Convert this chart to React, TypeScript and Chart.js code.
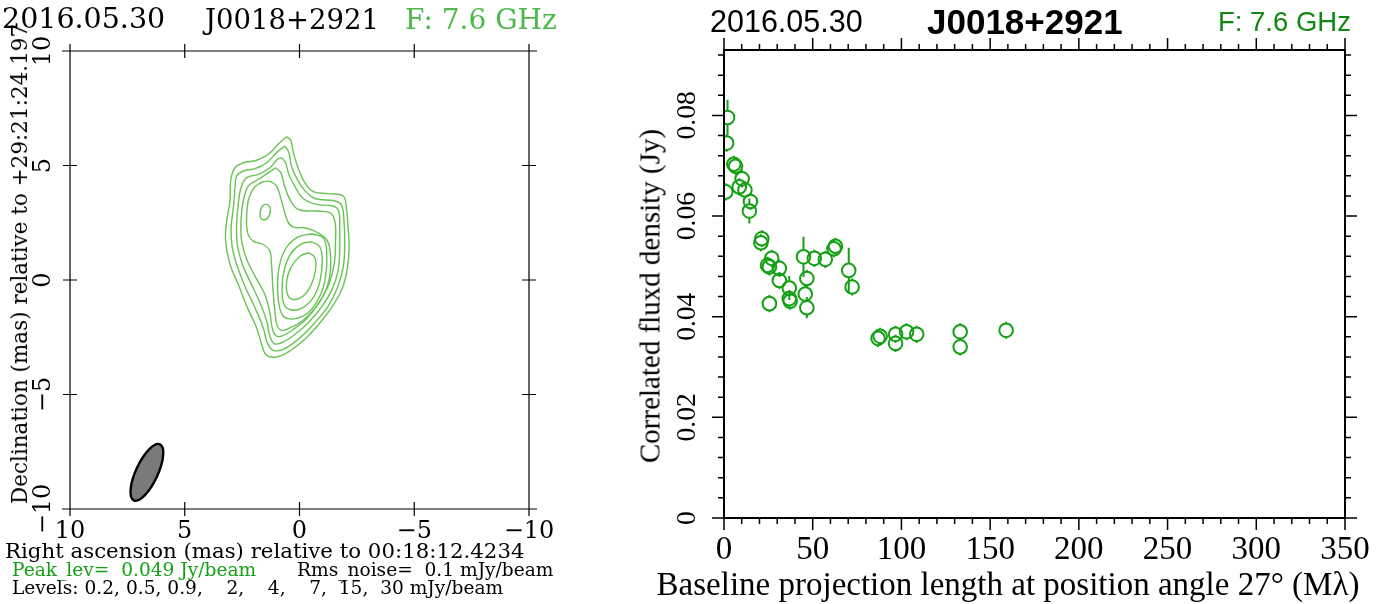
import React, { useEffect, useRef } from "react";
import { Chart, registerables } from "chart.js";

Chart.register(...registerables);

// ---------------- Right panel: correlated flux density vs baseline ----------------
const baselineMl = [
  2.0, 1.5, 1.0, 5.5, 6.5,
  10.2, 8.6, 11.8, 14.9, 14.3,
  21.3, 20.8, 26.9, 25.6, 24.5,
  31.2, 31.2, 36.8, 36.8, 37.3,
  25.6, 44.8, 46.7, 45.8, 46.7,
  50.9, 57.1, 62.8, 62.0, 70.3,
  72.2, 86.8, 88.0, 96.7, 96.7,
  102.9, 108.6, 133.1, 133.1, 159.0,
];
const fluxJy = [
  0.0796, 0.0745, 0.0648, 0.0703, 0.0699,
  0.0674, 0.0658, 0.0652, 0.0629, 0.061,
  0.0555, 0.0547, 0.0516, 0.0499, 0.0502,
  0.0496, 0.0472, 0.0457, 0.0436, 0.0431,
  0.0426, 0.0519, 0.0476, 0.0445, 0.0418,
  0.0516, 0.0514, 0.054, 0.0535, 0.0492,
  0.0459, 0.0357, 0.0361, 0.0365, 0.0347,
  0.037, 0.0365, 0.037, 0.034, 0.0373,
];
const fluxErrJy = [
  0.0035, 0.0017, 0.0017, 0.0017, 0.0017,
  0.0017, 0.0017, 0.0017, 0.0017, 0.0025,
  0.0017, 0.0017, 0.0017, 0.0017, 0.0017,
  0.0017, 0.0017, 0.0024, 0.0017, 0.0017,
  0.0017, 0.004, 0.0017, 0.0017, 0.0021,
  0.0017, 0.0017, 0.0017, 0.0017, 0.0045,
  0.0017, 0.0017, 0.0017, 0.0017, 0.0017,
  0.0017, 0.0017, 0.0017, 0.0017, 0.0017,
];
const uvXTicks = [0, 50, 100, 150, 200, 250, 300, 350];
const uvYTicks = [0, 0.02, 0.04, 0.06, 0.08];
const uvXRange = [0, 350];
const uvYRange = [0, 0.093];

// ---------------- Left panel: contour map (mas) ----------------
type P = [number, number];
const contourLevel1: P[] = [
  [0.57, 6.26], [0.38, 6.1], [0.27, 5.56], [0.06, 4.9], [-0.23, 4.25], [-0.6, 3.86], [-1.25, 3.77],
  [-1.9, 3.67], [-2.04, 3.16], [-2.12, 2.28], [-2.16, 1.41], [-2.09, 0.54], [-1.9, -0.26], [-1.54, -0.99],
  [-0.96, -1.79], [-0.23, -2.59], [0.42, -3.1], [1.0, -3.36], [1.44, -3.28], [1.65, -2.81], [1.87, -2.08],
  [2.3, -1.14], [2.67, -0.19], [3.03, 0.69], [3.22, 1.7], [3.17, 2.58], [3.03, 3.45], [2.99, 4.4],
  [2.81, 4.9], [2.45, 5.12], [1.87, 5.23], [1.36, 5.49], [0.93, 5.93],
];
const contourLevel2: P[] = [
  [0.64, 5.85], [0.46, 5.56], [0.35, 4.98], [0.06, 4.32], [-0.26, 3.88], [-0.67, 3.56], [-1.54, 3.45],
  [-1.83, 3.27], [-1.94, 2.57], [-1.97, 1.41], [-1.9, 0.54], [-1.65, -0.34], [-1.25, -1.14], [-0.6, -1.94],
  [0.06, -2.59], [0.71, -3.03], [1.14, -3.07], [1.39, -2.78], [1.58, -2.09], [1.94, -1.21], [2.38, -0.27],
  [2.69, 0.54], [2.93, 1.41], [2.98, 2.28], [2.88, 3.16], [2.81, 4.03], [2.74, 4.54], [2.45, 4.76],
  [1.94, 4.86], [1.43, 5.12], [1.0, 5.56],
];
const contourLevel3: P[] = [
  [0.78, 5.34], [0.61, 5.12], [0.46, 4.61], [0.17, 4.03], [-0.16, 3.56], [-0.74, 3.3], [-1.46, 3.23],
  [-1.71, 3.01], [-1.75, 2.28], [-1.75, 1.26], [-1.68, 0.39], [-1.42, -0.41], [-0.99, -1.14], [-0.38, -1.87],
  [0.2, -2.38], [0.78, -2.74], [1.1, -2.78], [1.29, -2.45], [1.43, -1.79], [1.72, -0.99], [2.16, -0.05],
  [2.49, 0.68], [2.71, 1.55], [2.74, 2.43], [2.67, 3.3], [2.55, 4.03], [2.3, 4.47], [1.8, 4.61],
  [1.29, 4.9], [0.96, 5.27],
];
const contourLevel4: P[] = [
  [1.04, 4.9], [0.81, 4.68], [0.67, 4.17], [0.42, 3.52], [0.06, 3.08], [-0.67, 3.01], [-1.32, 2.94],
  [-1.54, 2.57], [-1.57, 1.7], [-1.51, 0.68], [-1.28, -0.19], [-0.89, -0.92], [-0.35, -1.65], [0.27, -2.16],
  [0.78, -2.45], [1.04, -2.42], [1.19, -2.09], [1.29, -1.43], [1.51, -0.63], [1.94, 0.17], [2.3, 0.9],
  [2.52, 1.7], [2.55, 2.57], [2.45, 3.45], [2.23, 4.1], [1.8, 4.39], [1.36, 4.68],
];
const contourLevel5: P[] = [
  [1.29, 4.32], [1.0, 4.1], [0.78, 3.45], [0.52, 2.57], [0.27, 2.31], [-0.23, 2.28], [-0.81, 2.06],
  [-1.22, 1.7], [-1.36, 0.97], [-1.32, 0.17], [-1.1, -0.56], [-0.7, -1.21], [-0.12, -1.79], [0.46, -2.11],
  [0.78, -2.2], [0.98, -1.97], [1.08, -1.28], [1.16, -0.34], [1.22, 0.68], [1.29, 1.26], [1.58, 1.55],
  [2.01, 1.7], [2.26, 2.06], [2.3, 2.86], [2.2, 3.59], [1.94, 4.07], [1.58, 4.29],
];
const contourLevel6North: P[] = [
  [1.39, 3.3], [1.27, 3.13], [1.33, 2.79], [1.54, 2.62], [1.71, 2.75], [1.68, 3.11], [1.54, 3.29],
];
const contourLevel6South: P[] = [
  [-0.55, 2.02], [-1.05, 1.82], [-1.19, 1.12], [-1.13, 0.1], [-0.89, -0.7], [-0.38, -1.43], [0.25, -1.7],
  [0.68, -1.6], [0.88, -1.15], [0.95, -0.34], [0.88, 0.61], [0.58, 1.4], [0.06, 1.88],
];
const contourLevel7: P[] = [
  [-0.52, 1.67], [-0.89, 1.44], [-0.99, 0.83], [-0.89, -0.05], [-0.6, -0.77], [-0.09, -1.24], [0.4, -1.3],
  [0.68, -1.05], [0.76, -0.34], [0.66, 0.46], [0.35, 1.19], [-0.09, 1.58],
];
const contourLevel8: P[] = [
  [-0.41, 1.19], [-0.67, 0.97], [-0.7, 0.46], [-0.52, -0.19], [-0.16, -0.7], [0.27, -0.85], [0.52, -0.63],
  [0.56, -0.05], [0.38, 0.54], [-0.02, 1.04],
];
const contours = [
  contourLevel1, contourLevel2, contourLevel3, contourLevel4, contourLevel5,
  contourLevel6North, contourLevel6South, contourLevel7, contourLevel8,
];
const mapTicks = [10, 5, 0, -5, -10];
const mapRange = [-10, 10];
// restoring beam (mas, degrees)
const beamCenter = [6.65, -8.4];
const beamAxes = [2.7, 0.95]; // major, minor
const beamPA = -25;

// ---------------- styles ----------------
const CONTOUR_GREEN = "rgb(104,196,84)";
const POINT_GREEN = "rgb(20,160,20)";
const SERIF_MAP = "'DejaVu Serif', serif";
const SERIF_UV = "'Liberation Serif', serif";
const SANS_UV = "'Liberation Sans', sans-serif";

const fmtMinus = (v: number) => (v < 0 ? "\u2212" + Math.abs(v) : String(v));

const mapFramePlugin = {
  id: "mapFrame",
  afterDraw(chart: any) {
    const { ctx, chartArea: a, scales } = chart;
    const xs = scales.x;
    const ys = scales.y;
    ctx.save();
    // beam
    const cx = xs.getPixelForValue(beamCenter[0]);
    const cy = ys.getPixelForValue(beamCenter[1]);
    const rMaj = Math.abs(ys.getPixelForValue(beamCenter[1] + beamAxes[0] / 2) - cy);
    const rMin = Math.abs(xs.getPixelForValue(beamCenter[0] + beamAxes[1] / 2) - cx);
    ctx.beginPath();
    ctx.ellipse(cx, cy, rMin, rMaj, (-beamPA * Math.PI) / 180, 0, Math.PI * 2);
    ctx.fillStyle = "#7a7a7a";
    ctx.fill();
    ctx.lineWidth = 2.4;
    ctx.strokeStyle = "#000";
    ctx.stroke();
    // frame
    ctx.lineWidth = 1.2;
    ctx.beginPath();
    ctx.moveTo(a.left - 8, a.top);
    ctx.lineTo(a.right + 8, a.top);
    ctx.moveTo(a.left - 8, a.bottom);
    ctx.lineTo(a.right + 8, a.bottom);
    ctx.moveTo(a.left, a.top - 5);
    ctx.lineTo(a.left, a.bottom + 5);
    ctx.moveTo(a.right, a.top - 5);
    ctx.lineTo(a.right, a.bottom + 5);
    mapTicks.forEach((v) => {
      const px = xs.getPixelForValue(v);
      ctx.moveTo(px, a.top - 7);
      ctx.lineTo(px, a.top + 7);
      ctx.moveTo(px, a.bottom - 7);
      ctx.lineTo(px, a.bottom + 7);
      const py = ys.getPixelForValue(v);
      ctx.moveTo(a.left - 7, py);
      ctx.lineTo(a.left + 7, py);
      ctx.moveTo(a.right - 7, py);
      ctx.lineTo(a.right + 7, py);
    });
    ctx.stroke();
    ctx.restore();
  },
};

const POINT_R = 6.8;

const uvPlugin = {
  id: "uvFrame",
  afterDatasetsDraw(chart: any) {
    const { ctx, chartArea: a, scales } = chart;
    const xs = scales.x;
    const ys = scales.y;
    ctx.save();
    ctx.beginPath();
    ctx.rect(a.left, a.top, a.right - a.left, a.bottom - a.top);
    ctx.clip();
    ctx.strokeStyle = POINT_GREEN;
    ctx.lineWidth = 2;
    ctx.beginPath();
    baselineMl.forEach((bx, i) => {
      const px = xs.getPixelForValue(bx);
      const py = ys.getPixelForValue(fluxJy[i]);
      const up = ys.getPixelForValue(fluxJy[i] + fluxErrJy[i]);
      const dn = ys.getPixelForValue(fluxJy[i] - fluxErrJy[i]);
      if (py - up > POINT_R) {
        ctx.moveTo(px, up);
        ctx.lineTo(px, py - POINT_R);
      }
      if (dn - py > POINT_R) {
        ctx.moveTo(px, py + POINT_R);
        ctx.lineTo(px, dn);
      }
    });
    ctx.stroke();
    ctx.restore();
  },
  afterDraw(chart: any) {
    const { ctx, chartArea: a, scales } = chart;
    const xs = scales.x;
    const ys = scales.y;
    ctx.save();
    ctx.strokeStyle = "#000";
    ctx.lineWidth = 2;
    ctx.strokeRect(a.left, a.top, a.right - a.left, a.bottom - a.top);
    ctx.lineWidth = 1.5;
    ctx.beginPath();
    for (let k = 0; k * 10 <= uvXRange[1]; k++) {
      const px = xs.getPixelForValue(k * 10);
      const len = k % 5 === 0 ? 12 : 6;
      ctx.moveTo(px, a.bottom);
      ctx.lineTo(px, a.bottom + len);
      ctx.moveTo(px, a.top);
      ctx.lineTo(px, a.top - len);
    }
    for (let k = 0; k * 0.004 <= uvYRange[1]; k++) {
      const py = ys.getPixelForValue(k * 0.004);
      const len = k % 5 === 0 ? 12 : 6;
      ctx.moveTo(a.left, py);
      ctx.lineTo(a.left - len, py);
      ctx.moveTo(a.right, py);
      ctx.lineTo(a.right + len, py);
    }
    ctx.stroke();
    ctx.restore();
  },
};

function MapChart() {
  const ref = useRef<HTMLCanvasElement>(null);
  useEffect(() => {
    const chart = new Chart(ref.current as HTMLCanvasElement, {
      type: "line",
      data: {
        datasets: contours.map((c) => ({
          data: [...c, c[0]].map(([x, y]) => ({ x, y })),
          borderColor: CONTOUR_GREEN,
          borderWidth: 1.4,
          pointRadius: 0,
          tension: 0.4,
          fill: false,
        })),
      },
      options: {
        responsive: false,
        animation: false,
        events: [],
        layout: { padding: { left: 0, right: 31, top: 51, bottom: 55 } },
        plugins: { legend: { display: false }, tooltip: { enabled: false } },
        scales: {
          x: {
            type: "linear",
            reverse: true,
            min: mapRange[0],
            max: mapRange[1],
            afterBuildTicks: (s: any) => {
              s.ticks = mapTicks.map((v) => ({ value: v }));
            },
            afterFit: (s: any) => {
              s.height = 40;
              s.paddingLeft = 0;
              s.paddingRight = 0;
            },
            grid: { display: false, drawTicks: false },
            border: { display: false },
            ticks: {
              autoSkip: false,
              maxRotation: 0,
              padding: 8,
              color: "#000",
              font: { family: SERIF_MAP, size: 24 },
              callback: (v: any) => fmtMinus(Number(v)),
            },
          },
          y: {
            type: "linear",
            min: mapRange[0],
            max: mapRange[1],
            afterBuildTicks: (s: any) => {
              s.ticks = mapTicks.map((v) => ({ value: v }));
            },
            afterFit: (s: any) => {
              s.width = 70;
              s.paddingTop = 0;
              s.paddingBottom = 0;
            },
            grid: { display: false, drawTicks: false },
            border: { display: false },
            ticks: {
              autoSkip: false,
              minRotation: 90,
              maxRotation: 90,
              crossAlign: "center",
              padding: 1,
              color: "#000",
              font: { family: SERIF_MAP, size: 24 },
              callback: (v: any) => fmtMinus(Number(v)),
            },
          },
        },
      } as any,
      plugins: [mapFramePlugin],
    });
    return () => chart.destroy();
  }, []);
  return (
    <canvas
      ref={ref}
      width={560}
      height={604}
      style={{ position: "absolute", left: 0, top: 0, width: 560, height: 604 }}
    />
  );
}

function UvChart() {
  const ref = useRef<HTMLCanvasElement>(null);
  useEffect(() => {
    const chart = new Chart(ref.current as HTMLCanvasElement, {
      type: "scatter",
      data: {
        datasets: [
          {
            data: baselineMl.map((x, i) => ({ x, y: fluxJy[i] })),
            pointRadius: POINT_R,
            pointBorderWidth: 2,
            pointBorderColor: POINT_GREEN,
            pointBackgroundColor: "rgba(0,0,0,0)",
            clip: 0,
          },
        ],
      },
      options: {
        responsive: false,
        animation: false,
        events: [],
        layout: { padding: { left: 0, right: 25, top: 50, bottom: 0 } },
        plugins: { legend: { display: false }, tooltip: { enabled: false } },
        scales: {
          x: {
            type: "linear",
            min: uvXRange[0],
            max: uvXRange[1],
            afterBuildTicks: (s: any) => {
              s.ticks = uvXTicks.map((v) => ({ value: v }));
            },
            afterFit: (s: any) => {
              s.height = 86;
              s.paddingLeft = 0;
              s.paddingRight = 0;
            },
            grid: { display: false, drawTicks: false },
            border: { display: false },
            ticks: {
              autoSkip: false,
              maxRotation: 0,
              padding: 13,
              color: "#000",
              font: { family: SERIF_UV, size: 33 },
              callback: (v: any) => String(v),
            },
          },
          y: {
            type: "linear",
            min: uvYRange[0],
            max: uvYRange[1],
            afterBuildTicks: (s: any) => {
              s.ticks = uvYTicks.map((v) => ({ value: v }));
            },
            afterFit: (s: any) => {
              s.width = 119;
              s.paddingTop = 0;
              s.paddingBottom = 0;
            },
            grid: { display: false, drawTicks: false },
            border: { display: false },
            ticks: {
              autoSkip: false,
              minRotation: 90,
              maxRotation: 90,
              crossAlign: "center",
              padding: 12,
              color: "#000",
              font: { family: SERIF_UV, size: 27.5 },
              callback: (v: any) => (Number(v) === 0 ? "0" : Number(v).toFixed(2)),
            },
          },
        },
      } as any,
      plugins: [uvPlugin],
    });
    return () => chart.destroy();
  }, []);
  return (
    <canvas
      ref={ref}
      width={765}
      height={604}
      style={{ position: "absolute", left: 605, top: 0, width: 765, height: 604 }}
    />
  );
}

type TxtProps = {
  x: number;
  y: number;
  text: string;
  size: number;
  family: string;
  color?: string;
  weight?: number;
  center?: boolean;
  rotate?: boolean;
};

function Txt({ x, y, text, size, family, color = "#000", weight = 400, center, rotate }: TxtProps) {
  const base: React.CSSProperties = {
    position: "absolute",
    fontFamily: family,
    fontSize: size,
    fontWeight: weight,
    color,
    lineHeight: `${Math.round(size * 1.4)}px`,
    whiteSpace: "pre",
    zIndex: 2,
  };
  if (rotate || center) {
    return (
      <div
        style={{
          ...base,
          left: x,
          top: y,
          transform: rotate ? "translate(-50%, -50%) rotate(-90deg)" : "translate(-50%, -50%)",
        }}
      >
        {text}
      </div>
    );
  }
  return (
    <div style={{ ...base, left: x, top: Math.round(y - Math.round(size * 1.4) / 2) }}>{text}</div>
  );
}

export default function App() {
  return (
    <div
      style={{
        position: "fixed",
        left: 0,
        top: 0,
        width: 1385,
        height: 604,
        background: "#fff",
        overflow: "hidden",
      }}
    >
      <MapChart />
      <UvChart />
      {/* left panel texts */}
      <Txt x={2} y={19} text="2016.05.30" size={28.5} family={SERIF_MAP} />
      <Txt x={205} y={19} text="J0018+2921" size={27.5} family={SERIF_MAP} />
      <Txt x={405} y={19} text="F: 7.6 GHz" size={28} family={SERIF_MAP} color="rgb(76,184,76)" />
      <Txt
        x={20}
        y={264}
        text="Declination (mas) relative to +29:21:24.197"
        size={21.5}
        family={SERIF_MAP}
        rotate
      />
      <Txt x={5} y={551} text="Right ascension (mas) relative to 00:18:12.4234" size={21.3} family={SERIF_MAP} />
      <Txt x={12} y={570} text="Peak_lev=  0.049 Jy/beam" size={18.6} family={SERIF_MAP} color="rgb(20,160,20)" />
      <Txt x={297} y={570} text="Rms_noise=  0.1 mJy/beam" size={18.6} family={SERIF_MAP} />
      <Txt
        x={12}
        y={588}
        text="Levels: 0.2, 0.5, 0.9,    2,    4,    7,  15,  30 mJy/beam"
        size={18.6}
        family={SERIF_MAP}
      />
      {/* right panel texts */}
      <Txt x={710} y={21} text="2016.05.30" size={30.5} family={SANS_UV} />
      <Txt x={927} y={21} text="J0018+2921" size={35} family={SANS_UV} weight={700} />
      <Txt x={1218} y={21} text="F: 7.6 GHz" size={27.5} family={SANS_UV} color="rgb(17,136,17)" />
      <Txt x={650} y={296} text="Correlated fluxd density (Jy)" size={29} family={SERIF_UV} rotate />
      <Txt
        x={1008}
        y={584}
        text="Baseline projection length at position angle 27° (Mλ)"
        size={33}
        family={SERIF_UV}
        center
      />
    </div>
  );
}
